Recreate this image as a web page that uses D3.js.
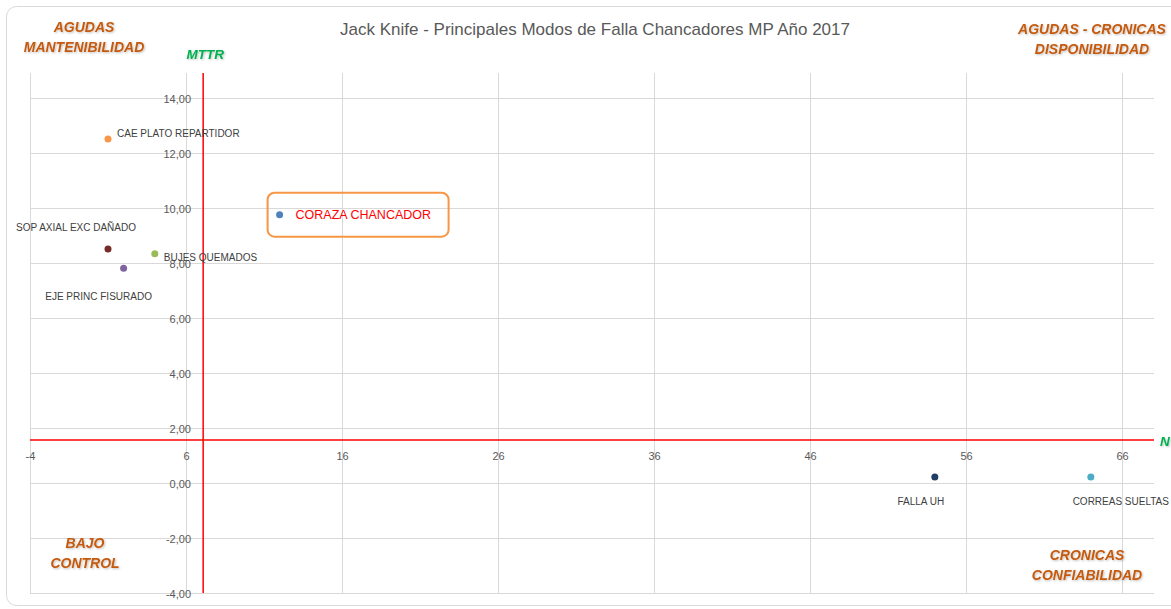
<!DOCTYPE html>
<html>
<head>
<meta charset="utf-8">
<script src="https://cdn.jsdelivr.net/npm/d3@7"></script>
<style>
  html, body { margin: 0; padding: 0; background: #fff; }
  svg { display: block; }
</style>
</head>
<body>
<svg id="chart" width="1171" height="609"></svg>
<script>
// ---- data ----
const failureModes = ["CAE PLATO REPARTIDOR", "CORAZA CHANCADOR", "SOP AXIAL EXC DAÑADO", "BUJES QUEMADOS", "EJE PRINC FISURADO", "FALLA UH", "CORREAS SUELTAS"];
const nValues = [1, 12, 1, 4, 2, 54, 64];
const mttrValues = [12.5, 9.75, 8.5, 8.33, 7.8, 0.22, 0.22];
const pointColors = ["#F79646", "#4F81BD", "#772C2A", "#9BBB59", "#8064A2", "#1F3D66", "#4BACC6"];
const labelPlacement = ["right", "right-boxed", "above-left", "right", "below", "below", "below"];
const xTicks = [-4, 6, 16, 26, 36, 46, 56, 66];
const yTicks = [-4, -2, 0, 2, 4, 6, 8, 10, 12, 14];
const nThreshold = 7.1;     // vertical red line (N)
const mttrThreshold = 1.56; // horizontal red line (MTTR)
const title = "Jack Knife - Principales Modos de Falla Chancadores MP Año 2017";
const quadrantLabels = [
  { lines: ["AGUDAS", "MANTENIBILIDAD"], pos: "tl" },
  { lines: ["AGUDAS - CRONICAS", "DISPONIBILIDAD"], pos: "tr" },
  { lines: ["BAJO", "CONTROL"], pos: "bl" },
  { lines: ["CRONICAS", "CONFIABILIDAD"], pos: "br" }
];

// ---- chart ----
const svg = d3.select("#chart");
const font = "'Liberation Sans', Arial, sans-serif";
const plot = { left: 30, right: 1154, top: 73, bottom: 593 };

const x = d3.scaleLinear().domain([-4, 68.05]).range([plot.left, plot.right]);
const y = d3.scaleLinear().domain([-4, 14.9]).range([plot.bottom, plot.top]);
const loc = d3.formatLocale({ decimal: ",", thousands: ".", grouping: [3], currency: ["", ""], minus: "-" });
const fmtY = loc.format(".2f");
const fmtX = loc.format("d");

const defs = svg.append("defs");
const f = defs.append("filter").attr("id", "shadow").attr("x", "-10%").attr("y", "-20%").attr("width", "130%").attr("height", "150%");
f.append("feDropShadow").attr("dx", 1).attr("dy", 1).attr("stdDeviation", 0.8).attr("flood-color", "#000").attr("flood-opacity", 0.25);

// border
svg.append("rect")
  .attr("x", 6.5).attr("y", 6.5).attr("width", 1200).attr("height", 599)
  .attr("rx", 10).attr("fill", "#fff").attr("stroke", "#D9D9D9").attr("stroke-width", 1);

// gridlines
svg.append("g").selectAll("line").data(xTicks).join("line")
  .attr("x1", d => Math.round(x(d)) + 0.5).attr("x2", d => Math.round(x(d)) + 0.5)
  .attr("y1", plot.top).attr("y2", plot.bottom)
  .attr("stroke", "#D9D9D9").attr("stroke-width", 1);
svg.append("g").selectAll("line").data(yTicks).join("line")
  .attr("y1", d => Math.round(y(d)) + 0.5).attr("y2", d => Math.round(y(d)) + 0.5)
  .attr("x1", plot.left).attr("x2", plot.right)
  .attr("stroke", "#D9D9D9").attr("stroke-width", 1);

// y axis labels (axis crosses at x=6)
const yAxis = svg.append("g")
  .attr("transform", `translate(${x(6) + 10},0)`)
  .call(d3.axisLeft(y).tickValues(yTicks).tickFormat(fmtY).tickSize(0).tickPadding(5));
yAxis.select(".domain").remove();
yAxis.selectAll("text").attr("font-family", font).attr("font-size", 11).attr("fill", "#595959").attr("dy", "0.45em");

// x axis labels (axis crosses near y=1.2)
const xAxis = svg.append("g")
  .attr("transform", `translate(0,${y(1.25)})`)
  .call(d3.axisBottom(x).tickValues(xTicks).tickFormat(fmtX).tickSize(0).tickPadding(4));
xAxis.select(".domain").remove();
xAxis.selectAll("text").attr("font-family", font).attr("font-size", 11).attr("fill", "#595959");

// threshold lines
svg.append("line")
  .attr("x1", x(nThreshold)).attr("x2", x(nThreshold))
  .attr("y1", plot.top).attr("y2", plot.bottom)
  .attr("stroke", "#FF0000").attr("stroke-width", 1.5);
svg.append("line")
  .attr("x1", plot.left).attr("x2", plot.right)
  .attr("y1", y(mttrThreshold)).attr("y2", y(mttrThreshold))
  .attr("stroke", "#FF0000").attr("stroke-width", 1.5);

// axis names
svg.append("text").text("MTTR")
  .attr("x", x(nThreshold) + 2).attr("y", 59).attr("text-anchor", "middle")
  .attr("font-family", font).attr("font-size", 13.5).attr("font-weight", "bold").attr("font-style", "italic")
  .attr("fill", "#00B050").attr("filter", "url(#shadow)");
svg.append("text").text("N")
  .attr("x", 1160).attr("y", y(mttrThreshold) + 6)
  .attr("font-family", font).attr("font-size", 13.5).attr("font-weight", "bold").attr("font-style", "italic")
  .attr("fill", "#00B050").attr("filter", "url(#shadow)");

// title
svg.append("text").text(title)
  .attr("x", 595).attr("y", 35).attr("text-anchor", "middle")
  .attr("font-family", font).attr("font-size", 17).attr("fill", "#595959");

// quadrant labels
const qCenters = { tl: [84, 32], tr: [1092, 34], bl: [85, 548], br: [1087, 560] };
quadrantLabels.forEach(q => {
  const [cx, cy] = qCenters[q.pos];
  const t = svg.append("text")
    .attr("text-anchor", "middle")
    .attr("font-family", font).attr("font-size", 14).attr("font-weight", "bold").attr("font-style", "italic")
    .attr("fill", "#C55A11").attr("filter", "url(#shadow)");
  q.lines.forEach((ln, i) => t.append("tspan").attr("x", cx).attr("y", cy + i * 20).text(ln));
});

// points
const pts = failureModes.map((name, i) => ({ name, n: nValues[i], m: mttrValues[i], color: pointColors[i], place: labelPlacement[i] }));

// highlight box around CORAZA CHANCADOR
pts.filter(p => p.place === "right-boxed").forEach(p => {
  svg.append("rect")
    .attr("x", x(p.n) - 12).attr("y", y(p.m) - 22).attr("width", 181).attr("height", 44)
    .attr("rx", 7).attr("fill", "none").attr("stroke", "#F79646").attr("stroke-width", 2);
});

svg.append("g").selectAll("circle").data(pts).join("circle")
  .attr("cx", d => x(d.n)).attr("cy", d => y(d.m)).attr("r", 3.5)
  .attr("fill", d => d.color);

svg.append("g").selectAll("text").data(pts).join("text")
  .text(d => d.name)
  .attr("font-family", font)
  .attr("font-size", d => d.place === "right-boxed" ? 12.5 : 10)
  .attr("fill", d => d.place === "right-boxed" ? "#FF0000" : "#404040")
  .attr("text-anchor", d => d.place === "right" || d.place === "right-boxed" ? "start" : "middle")
  .attr("x", d => {
    if (d.place === "right") return x(d.n) + 9;
    if (d.place === "right-boxed") return x(d.n) + 16;
    if (d.place === "above-left") return x(d.n) - 32;
    if (d.place === "below") return x(d.n) - (d.name === "EJE PRINC FISURADO" ? 25 : (d.name === "FALLA UH" ? 14 : -30));
    return x(d.n);
  })
  .attr("y", d => {
    if (d.place === "right") return y(d.m) - (d.name === "BUJES QUEMADOS" ? -7 : 2);
    if (d.place === "right-boxed") return y(d.m) + 4;
    if (d.place === "above-left") return y(d.m) - 18;
    if (d.place === "below") return y(d.m) + (d.name === "EJE PRINC FISURADO" ? 32 : 28);
    return y(d.m);
  });
</script>
</body>
</html>
